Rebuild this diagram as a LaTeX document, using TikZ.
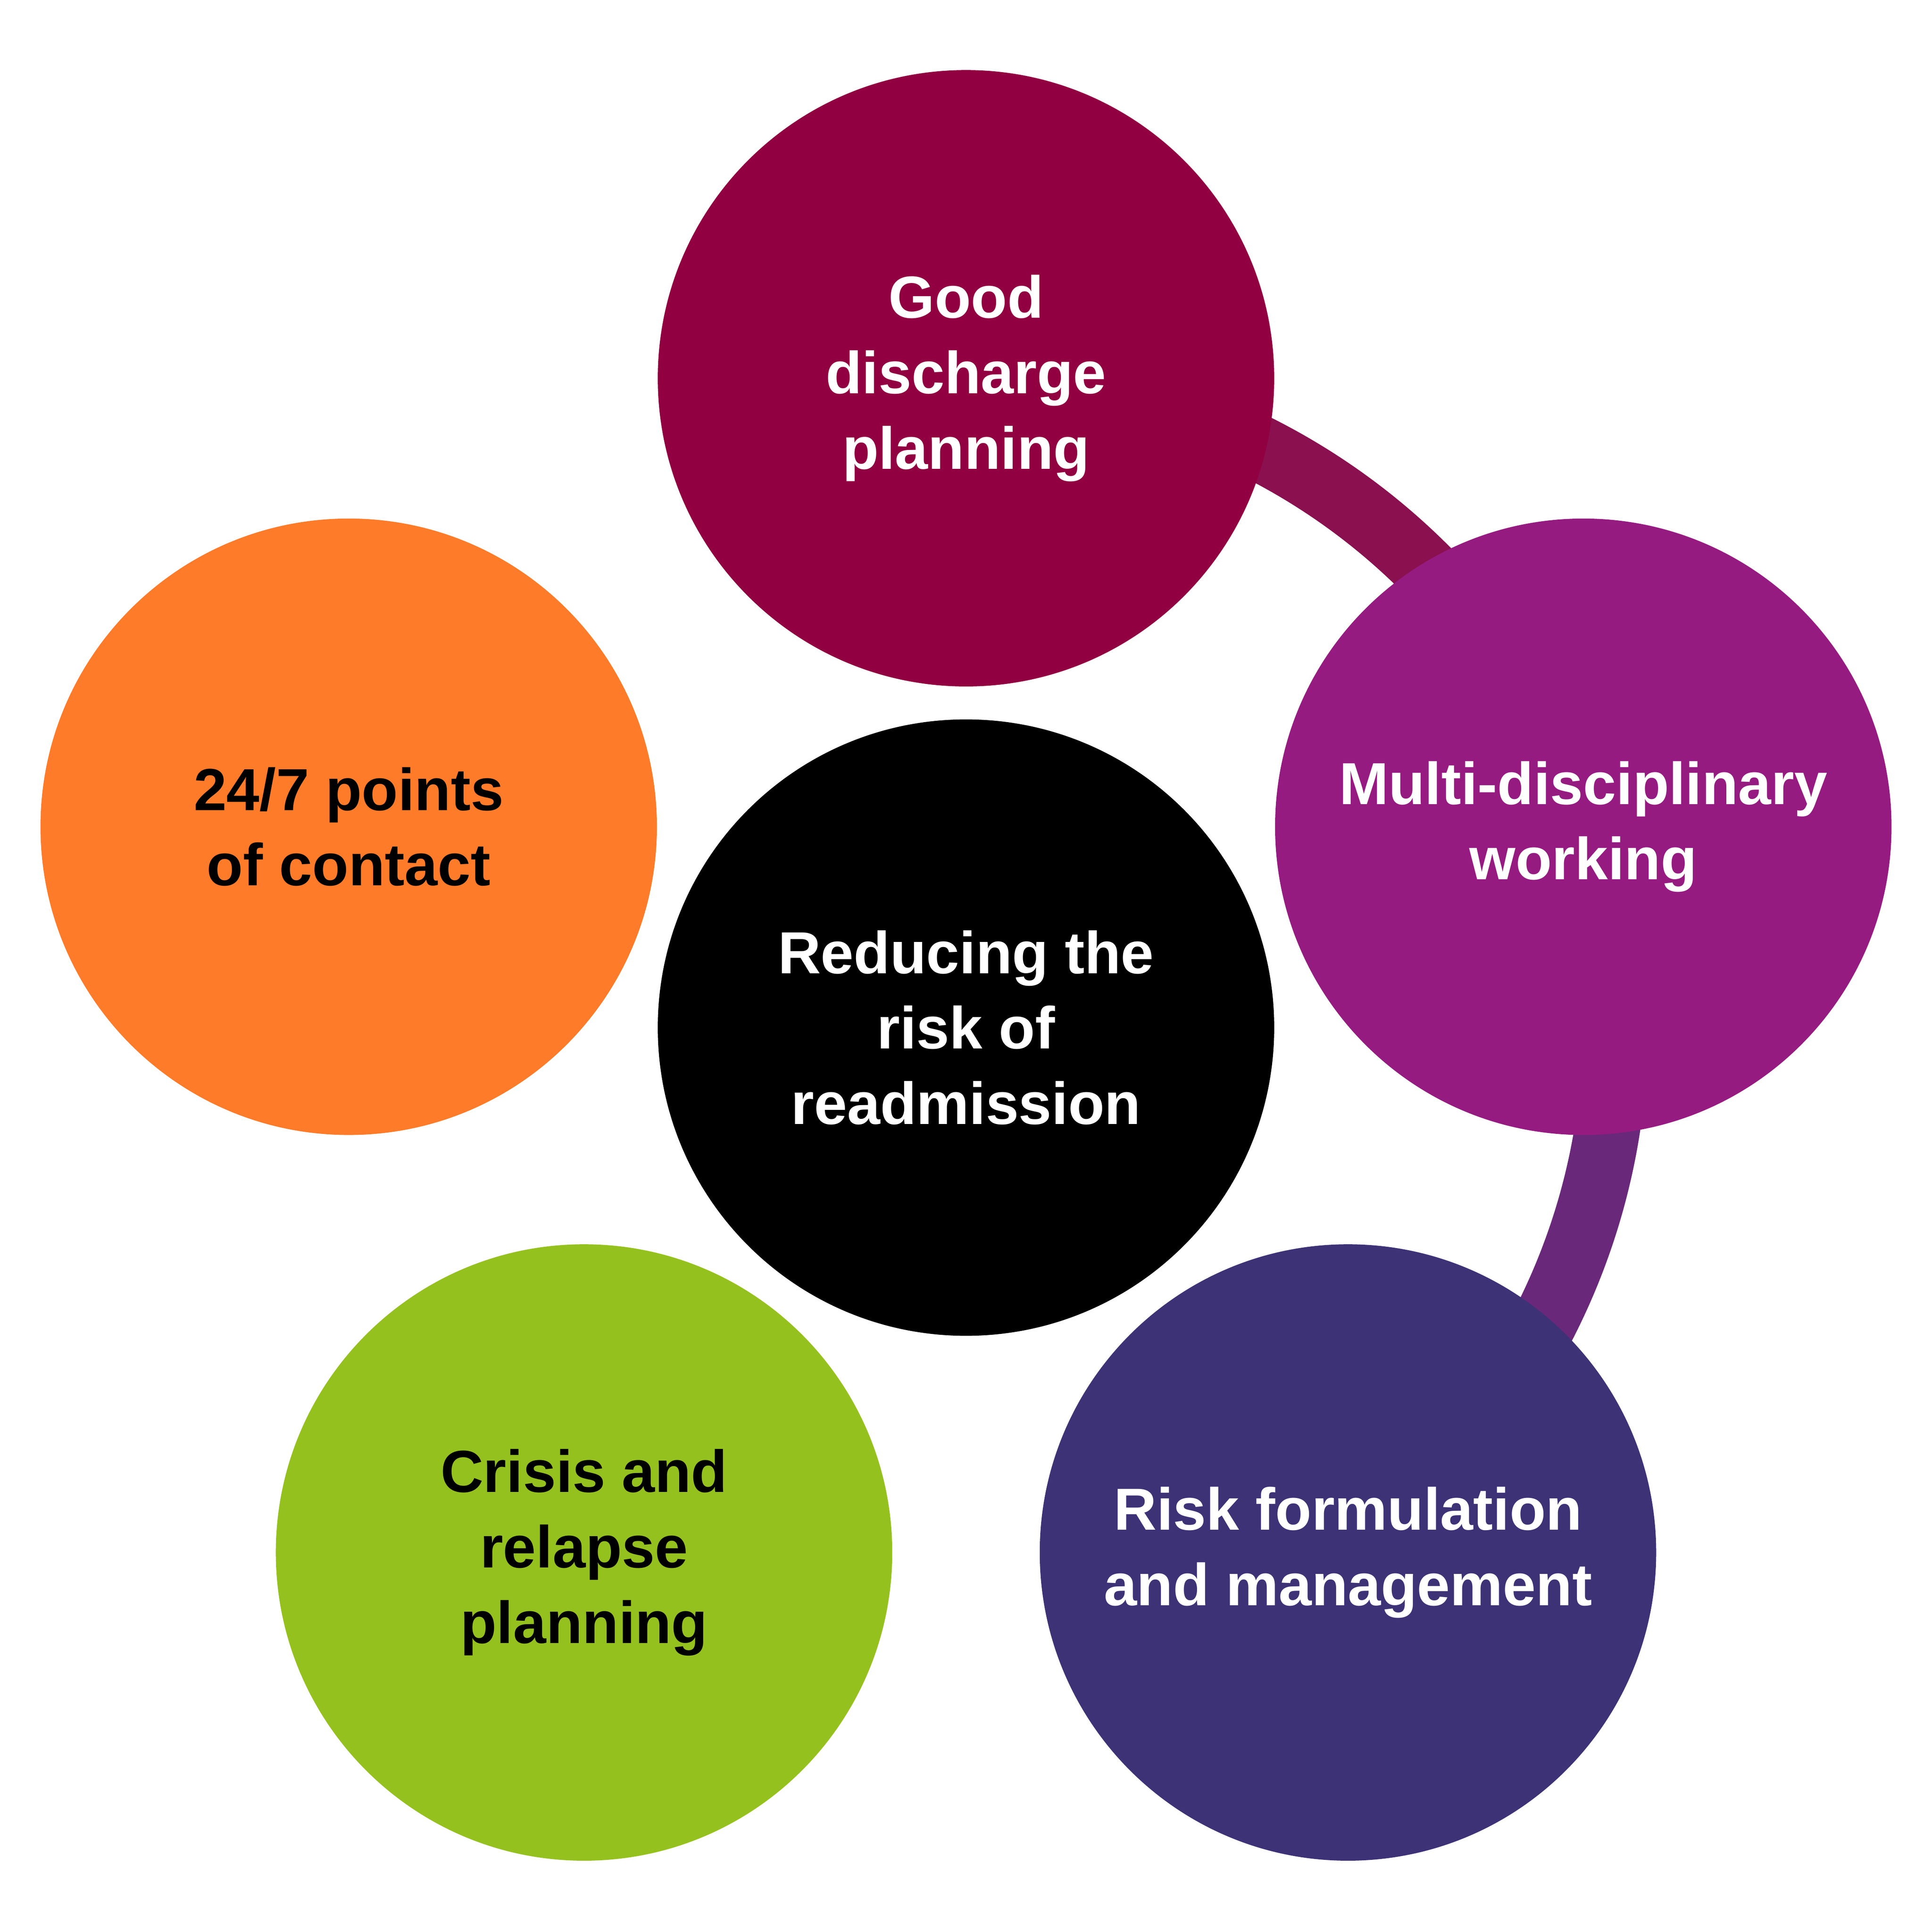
\documentclass[tikz,border=0pt]{standalone}
\usepackage{fontspec}
\setmainfont{Liberation Sans}
\definecolor{cdis}{HTML}{910041}
\definecolor{cmul}{HTML}{951B81}
\definecolor{crisk}{HTML}{3D3276}
\definecolor{ccri}{HTML}{95C11F}
\definecolor{cpts}{HTML}{FE7B29}
\definecolor{arcA}{HTML}{8A1050}
\definecolor{arcB}{HTML}{6A287A}
\begin{document}
\begin{tikzpicture}[x=0.01cm,y=0.01cm,
  bub/.style={circle,minimum size=5cm,inner sep=0pt,align=center,
    font=\fontsize{13.7pt}{17.4pt}\selectfont\bfseries},
  band/.style={line width=0.53cm}]
\useasboundingbox (0,0) rectangle (1568,1568);
\coordinate (O) at (784,734);
\draw[band,arcA] (O) ++(90:527) arc[start angle=90,end angle=18,radius=527];
\draw[band,arcB] (O) ++(18:527) arc[start angle=18,end angle=-54,radius=527];
\node[bub,fill=black,text=white] (c) at (784,734) {Reducing the\\risk of\\readmission};
\node[bub,fill=cdis,text=white] (d) at (784,1261) {Good\\discharge\\planning};
\node[bub,fill=cmul,text=white] (m) at (1285,897) {Multi-disciplinary\\working};
\node[bub,fill=crisk,text=white] (r) at (1094,308) {Risk formulation\\and management};
\node[bub,fill=ccri,text=black] (k) at (474,308) {Crisis and\\relapse\\planning};
\node[bub,fill=cpts,text=black] (p) at (283,897) {24/7 points\\of contact};
\end{tikzpicture}
\end{document}
